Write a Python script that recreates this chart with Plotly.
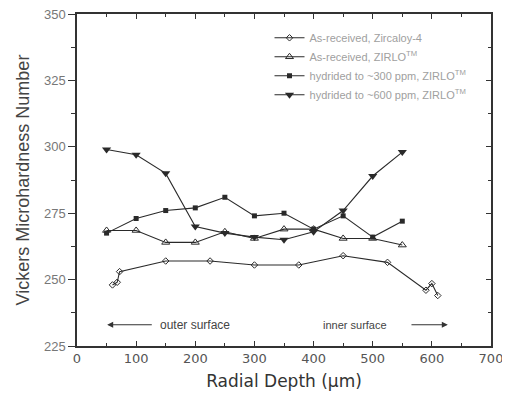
import plotly.graph_objects as go

# Data
zr4_x = [60, 68, 72, 150, 225, 300, 375, 450, 525, 590, 600, 610]
zr4_y = [248, 249, 253, 257, 257, 255.5, 255.5, 259, 256.5, 246, 248.5, 244]

zirlo_x = [50, 100, 150, 200, 250, 300, 350, 400, 450, 500, 550]
zirlo_y = [268.5, 268.5, 264, 264, 268, 265.5, 269, 269, 265.5, 265.5, 263]

h300_x = [50, 100, 150, 200, 250, 300, 350, 400, 450, 500, 550]
h300_y = [267.5, 273, 276, 277, 281, 274, 275, 269, 274, 266, 272]

h600_x = [50, 100, 150, 200, 250, 300, 350, 400, 450, 500, 550]
h600_y = [299, 297, 290, 270, 267.5, 266, 265, 268, 276, 289, 298]

names = ["As-received, Zircaloy-4",
         "As-received, ZIRLO<sup>TM</sup>",
         "hydrided to ~300 ppm, ZIRLO<sup>TM</sup>",
         "hydrided to ~600 ppm, ZIRLO<sup>TM</sup>"]

x_ticks = [0, 100, 200, 300, 400, 500, 600, 700]
y_ticks = [225, 250, 275, 300, 325, 350]

lc = "#2a2a2a"
fig = go.Figure()
fig.add_trace(go.Scatter(x=zr4_x, y=zr4_y, name=names[0], mode="lines+markers",
                         line=dict(color=lc, width=1.1),
                         marker=dict(symbol="diamond-open", size=5, color=lc, line=dict(width=1))))
fig.add_trace(go.Scatter(x=zirlo_x, y=zirlo_y, name=names[1], mode="lines+markers",
                         line=dict(color=lc, width=1.1),
                         marker=dict(symbol="triangle-up-open", size=7, color=lc, line=dict(width=1))))
fig.add_trace(go.Scatter(x=h300_x, y=h300_y, name=names[2], mode="lines+markers",
                         line=dict(color=lc, width=1.1),
                         marker=dict(symbol="square", size=5, color=lc)))
fig.add_trace(go.Scatter(x=h600_x, y=h600_y, name=names[3], mode="lines+markers",
                         line=dict(color=lc, width=1.1),
                         marker=dict(symbol="triangle-down", size=8, color=lc)))
# invisible trace for the right axis
fig.add_trace(go.Scatter(x=[0], y=[225], yaxis="y2", mode="markers",
                         marker=dict(opacity=0), showlegend=False, hoverinfo="skip"))

fig.update_layout(
    width=502, height=397,
    margin=dict(l=69, r=19, t=6, b=59, autoexpand=False),
    paper_bgcolor="white", plot_bgcolor="white",
    font=dict(family="Liberation Sans, Arial, sans-serif", color="#333"),
    showlegend=True,
    legend=dict(x=0.465, y=0.972, xanchor="left", yanchor="top",
                bgcolor="rgba(0,0,0,0)", borderwidth=0,
                font=dict(size=11, color="#a0a0a0"),
                tracegroupgap=0, itemwidth=30),
    xaxis=dict(range=[0, 700], tickvals=x_ticks, ticks="inside", ticklen=5,
               tickwidth=1.2, tickcolor="#333", automargin=False,
               ticklabeloverflow="allow",
               minor=dict(dtick=50, ticks="inside", ticklen=3, tickcolor="#333"),
               showline=True, linecolor="#333", linewidth=1.5, mirror="ticks",
               showgrid=False, zeroline=False,
               tickfont=dict(size=13, color="#555", family="DejaVu Sans, sans-serif"),
               title=dict(text="Radial Depth (µm)", standoff=10,
                          font=dict(size=17, color="#333", family="DejaVu Sans, sans-serif"))),
    yaxis=dict(range=[225, 350], tickvals=y_ticks, ticks="outside", ticklen=7,
               tickwidth=1.2, tickcolor="#333", automargin=False,
               ticklabeloverflow="allow",
               minor=dict(dtick=12.5, ticks="outside", ticklen=4, tickcolor="#333"),
               showline=True, linecolor="#333", linewidth=1.5,
               showgrid=False, zeroline=False,
               tickfont=dict(size=13, color="#777"),
               title=dict(text="Vickers Microhardness Number", standoff=10,
                          font=dict(size=18, color="#444"))),
    yaxis2=dict(range=[225, 350], overlaying="y", side="right", tickvals=y_ticks,
                ticks="inside", ticklen=5, tickcolor="#333", showticklabels=False,
                automargin=False,
                minor=dict(dtick=12.5, ticks="inside", ticklen=3, tickcolor="#333"),
                showline=True, linecolor="#333", linewidth=1.5,
                showgrid=False, zeroline=False),
)

# surface annotations (arrow attached to its label)
fig.add_annotation(x=51, y=233, ax=200, ay=233, xref="x", yref="y", axref="x", ayref="y",
                   text="outer surface", showarrow=True, arrowhead=2, arrowsize=1,
                   arrowwidth=1.2, arrowcolor="#333", borderpad=8,
                   font=dict(size=12, color="#444"))
fig.add_annotation(x=627, y=233, ax=470, ay=233, xref="x", yref="y", axref="x", ayref="y",
                   text="inner surface", showarrow=True, arrowhead=2, arrowsize=1,
                   arrowwidth=1.2, arrowcolor="#333", borderpad=24,
                   font=dict(size=11, color="#444"))

fig.write_html("out.html")
